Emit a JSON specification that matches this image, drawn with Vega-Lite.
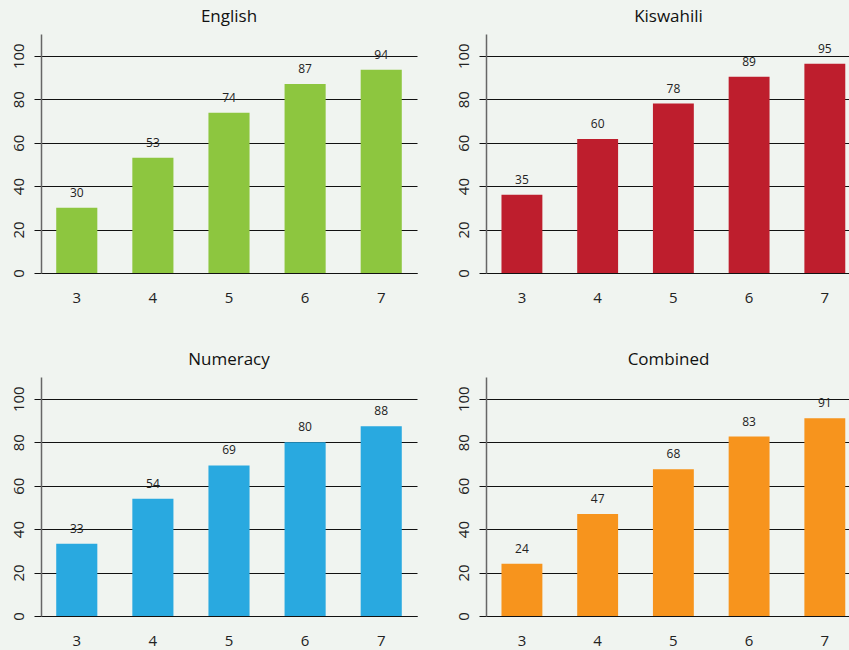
{
  "$schema": "https://vega.github.io/schema/vega-lite/v6.json",
  "background": "#f0f4f0",
  "padding": {"left": 11, "top": 8, "right": 0, "bottom": 2},
  "columns": 2,
  "spacing": {"row": 46, "column": 39},
  "data": {"values": [
    {"subject": "English", "grade": "3", "value": 30, "label": "30"},
    {"subject": "English", "grade": "4", "value": 53, "label": "53"},
    {"subject": "English", "grade": "5", "value": 73.7, "label": "74"},
    {"subject": "English", "grade": "6", "value": 87, "label": "87"},
    {"subject": "English", "grade": "7", "value": 93.5, "label": "94"},
    {"subject": "Kiswahili", "grade": "3", "value": 36, "label": "35"},
    {"subject": "Kiswahili", "grade": "4", "value": 61.7, "label": "60"},
    {"subject": "Kiswahili", "grade": "5", "value": 78, "label": "78"},
    {"subject": "Kiswahili", "grade": "6", "value": 90.3, "label": "89"},
    {"subject": "Kiswahili", "grade": "7", "value": 96.3, "label": "95"},
    {"subject": "Numeracy", "grade": "3", "value": 33.3, "label": "33"},
    {"subject": "Numeracy", "grade": "4", "value": 54, "label": "54"},
    {"subject": "Numeracy", "grade": "5", "value": 69.3, "label": "69"},
    {"subject": "Numeracy", "grade": "6", "value": 80, "label": "80"},
    {"subject": "Numeracy", "grade": "7", "value": 87.3, "label": "88"},
    {"subject": "Combined", "grade": "3", "value": 24, "label": "24"},
    {"subject": "Combined", "grade": "4", "value": 47, "label": "47"},
    {"subject": "Combined", "grade": "5", "value": 67.5, "label": "68"},
    {"subject": "Combined", "grade": "6", "value": 82.6, "label": "83"},
    {"subject": "Combined", "grade": "7", "value": 91, "label": "91"}
  ]},
  "config": {
    "view": {"stroke": null},
    "font": "Open Sans",
    "title": {"fontSize": 17, "fontWeight": "normal", "color": "#111", "offset": 8},
    "axisX": {"domainColor": "#111", "domainWidth": 1.2, "ticks": false, "labelFontSize": 15, "labelColor": "#222", "labelAngle": 0, "labelPadding": 17, "title": null, "grid": false},
    "axisY": {"domainColor": "#666", "domainWidth": 1.5, "tickColor": "#111", "tickSize": 7, "gridColor": "#111", "gridOpacity": 1, "gridWidth": 1, "labelFontSize": 15, "labelColor": "#222", "labelAngle": -90, "labelAlign": "center", "labelBaseline": "bottom", "labelPadding": 8, "title": null}
  },
  "concat": [
    {
      "title": "English",
      "width": 376, "height": 239,
      "transform": [{"filter": "datum.subject === 'English'"}],
      "encoding": {
        "x": {"field": "grade", "type": "nominal", "scale": {"paddingInner": 0.46, "paddingOuter": 0.2, "align": 0.5}},
        "y": {"field": "value", "type": "quantitative", "scale": {"domain": [0, 110], "nice": false}, "axis": {"values": [0, 20, 40, 60, 80, 100]}}
      },
      "layer": [
        {"mark": {"type": "bar", "color": "#8dc63f"}},
        {"mark": {"type": "text", "baseline": "bottom", "dy": -8, "fontSize": 12, "color": "#222"}, "encoding": {"text": {"field": "label"}}}
      ]
    },
    {
      "title": "Kiswahili",
      "width": 365, "height": 239,
      "transform": [{"filter": "datum.subject === 'Kiswahili'"}],
      "encoding": {
        "x": {"field": "grade", "type": "nominal", "scale": {"paddingInner": 0.46, "paddingOuter": 0.14, "align": 0.73}},
        "y": {"field": "value", "type": "quantitative", "scale": {"domain": [0, 110], "nice": false}, "axis": {"values": [0, 20, 40, 60, 80, 100]}}
      },
      "layer": [
        {"mark": {"type": "bar", "color": "#be1e2d"}},
        {"mark": {"type": "text", "baseline": "bottom", "dy": -8, "fontSize": 12, "color": "#222"}, "encoding": {"text": {"field": "label"}}}
      ]
    },
    {
      "title": "Numeracy",
      "width": 376, "height": 239,
      "transform": [{"filter": "datum.subject === 'Numeracy'"}],
      "encoding": {
        "x": {"field": "grade", "type": "nominal", "scale": {"paddingInner": 0.46, "paddingOuter": 0.2, "align": 0.5}},
        "y": {"field": "value", "type": "quantitative", "scale": {"domain": [0, 110], "nice": false}, "axis": {"values": [0, 20, 40, 60, 80, 100]}}
      },
      "layer": [
        {"mark": {"type": "bar", "color": "#29a9e0"}},
        {"mark": {"type": "text", "baseline": "bottom", "dy": -8, "fontSize": 12, "color": "#222"}, "encoding": {"text": {"field": "label"}}}
      ]
    },
    {
      "title": "Combined",
      "width": 365, "height": 239,
      "transform": [{"filter": "datum.subject === 'Combined'"}],
      "encoding": {
        "x": {"field": "grade", "type": "nominal", "scale": {"paddingInner": 0.46, "paddingOuter": 0.14, "align": 0.73}},
        "y": {"field": "value", "type": "quantitative", "scale": {"domain": [0, 110], "nice": false}, "axis": {"values": [0, 20, 40, 60, 80, 100]}}
      },
      "layer": [
        {"mark": {"type": "bar", "color": "#f7941d"}},
        {"mark": {"type": "text", "baseline": "bottom", "dy": -8, "fontSize": 12, "color": "#222"}, "encoding": {"text": {"field": "label"}}}
      ]
    }
  ],
  "resolve": {"scale": {"x": "independent", "y": "independent"}}
}
